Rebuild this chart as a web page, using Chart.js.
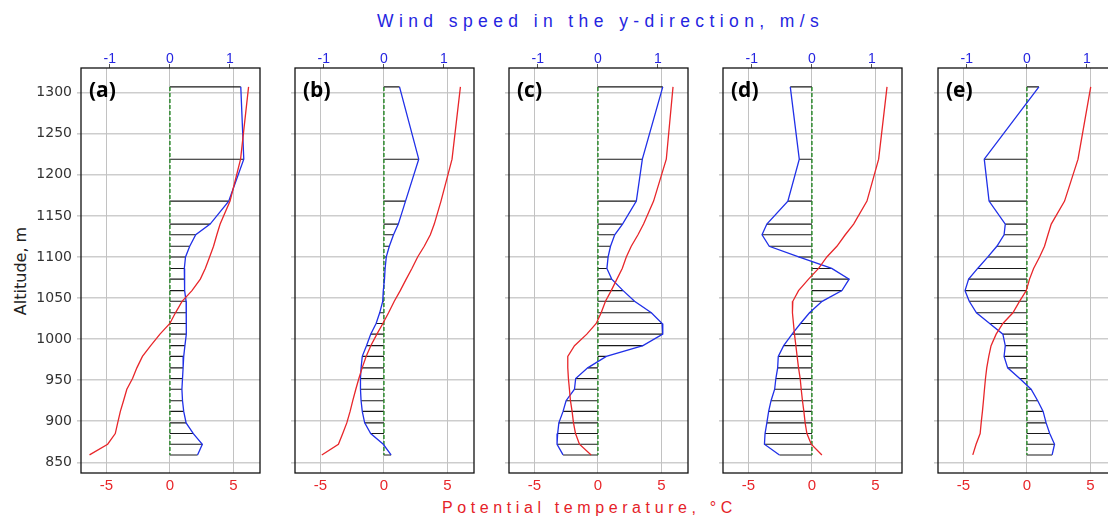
<!DOCTYPE html>
<html>
<head>
<meta charset="utf-8">
<title>Wind and potential temperature profiles</title>
<script src="https://cdn.jsdelivr.net/npm/chart.js@4.4.1/dist/chart.umd.min.js"></script>
<style>
  html, body { margin: 0; padding: 0; background: #fff; }
  body { position: relative; width: 1108px; height: 517px; overflow: hidden;
         font-family: 'Liberation Sans', Arial, sans-serif; }
  .panel { position: absolute; top: 0; width: 261px; height: 517px; }
  .axis-title { position: absolute; white-space: nowrap; }
  #windTitle { left: 377px; top: 11px; font-size: 17.5px; letter-spacing: 5.4px; color: #2525e0; }
  #tempTitle { left: 442px; top: 499px; font-size: 16px; letter-spacing: 4.6px; color: #e52228; }
  #altTitle { left: 20px; top: 271px; color: #222; font-family: 'DejaVu Sans', sans-serif;
              font-size: 16px; transform: translate(-50%, -50%) rotate(-90deg); }
</style>
</head>
<body>
<div class="axis-title" id="windTitle">Wind speed in the y-direction, m/s</div>
<div class="axis-title" id="tempTitle">Potential temperature, °C</div>
<div class="axis-title" id="altTitle">Altitude, m</div>

<script>
// sounding levels (m) shared by every profile
const altitudes = [1307, 1219, 1168, 1140, 1127, 1113, 1100, 1086, 1073, 1059, 1046, 1032, 1019,
                   1006, 992, 979, 965, 952, 939, 925, 912, 898, 885, 872, 859];

const altTicks = [850, 900, 950, 1000, 1050, 1100, 1150, 1200, 1250, 1300];
const tempTicks = [-5, 0, 5];
const windTicks = [-1, 0, 1];
const panelNames = ['(a)', '(b)', '(c)', '(d)', '(e)'];

// y-direction wind, m/s
const windA = [1.18, 1.23, 0.98, 0.67, 0.43, 0.33, 0.26, 0.24, 0.24, 0.25, 0.27, 0.27, 0.28,
               0.27, 0.25, 0.23, 0.22, 0.21, 0.20, 0.21, 0.23, 0.27, 0.39, 0.54, 0.46];
const windB = [0.26, 0.58, 0.36, 0.24, 0.16, 0.09, 0.04, 0.02, 0.01, -0.01, -0.02, -0.07, -0.13,
               -0.22, -0.29, -0.36, -0.38, -0.39, -0.39, -0.38, -0.36, -0.32, -0.22, -0.01, 0.12];
const windC = [1.08, 0.74, 0.64, 0.41, 0.28, 0.21, 0.17, 0.15, 0.23, 0.42, 0.61, 0.89, 1.07,
               1.08, 0.75, 0.14, -0.17, -0.37, -0.39, -0.53, -0.58, -0.65, -0.67, -0.68, -0.58];
const windD = [-0.36, -0.21, -0.40, -0.75, -0.83, -0.71, -0.22, 0.33, 0.62, 0.50, 0.17, -0.04, -0.19,
               -0.33, -0.47, -0.56, -0.57, -0.60, -0.62, -0.68, -0.72, -0.75, -0.78, -0.79, -0.54];
const windE = [0.20, -0.71, -0.63, -0.36, -0.38, -0.50, -0.65, -0.82, -0.97, -1.03, -0.96, -0.84, -0.62,
               -0.40, -0.36, -0.38, -0.32, -0.12, 0.07, 0.18, 0.27, 0.32, 0.38, 0.46, 0.42];

// potential temperature, deg C
const tempA = [6.2, 5.57, 4.74, 3.96, 3.7, 3.44, 3.13, 2.79, 2.4, 1.74, 0.96, 0.44, 0.0,
               -0.78, -1.51, -2.16, -2.6, -2.94, -3.39, -3.65, -3.9, -4.11, -4.3, -4.9, -6.33];
const tempB = [6.03, 5.37, 4.5, 3.97, 3.66, 3.18, 2.66, 2.21, 1.76, 1.29, 0.82, 0.37, -0.08,
               -0.55, -1.03, -1.39, -1.71, -1.97, -2.21, -2.45, -2.66, -2.92, -3.24, -3.58, -4.89];
const tempC = [5.92, 5.39, 4.39, 3.6, 3.16, 2.63, 2.24, 1.92, 1.5, 1.05, 0.6, 0.26, -0.13,
               -0.87, -1.84, -2.37, -2.37, -2.32, -2.24, -2.16, -2.03, -1.92, -1.76, -1.45, -0.53];
const tempD = [5.92, 5.26, 4.34, 3.29, 2.63, 1.97, 1.18, 0.53, -0.26, -1.05, -1.5, -1.53, -1.45,
               -1.37, -1.26, -1.16, -1.05, -0.92, -0.84, -0.74, -0.63, -0.53, -0.39, -0.05, 0.79];
const tempE = [5.03, 4.03, 2.97, 1.92, 1.66, 1.39, 1.0, 0.53, 0.21, -0.05, -0.58, -1.1, -1.89,
               -2.42, -2.82, -3.0, -3.16, -3.26, -3.34, -3.42, -3.5, -3.6, -3.68, -4.0, -4.26];

const windSeries = [windA, windB, windC, windD, windE];
const tempSeries = [tempA, tempB, tempC, tempD, tempE];

// left edge of each plot box on the page
const plotLefts = [81, 295, 509, 723, 938];
const AXIS_W = 80;

const FONT = "'Liberation Sans', Arial, sans-serif";

function fixedTicks(list) {
    return function (scale) { scale.ticks = list.map(v => ({ value: v })); };
}

// box around the plot area plus the panel letter
const framePlugin = {
    id: 'frame',
    afterDraw(chart, args, opts) {
        const { ctx, chartArea: a } = chart;
        ctx.save();
        ctx.strokeStyle = '#111';
        ctx.lineWidth = 1.3;
        ctx.strokeRect(a.left, a.top, a.right - a.left, a.bottom - a.top);
        ctx.fillStyle = '#000';
        ctx.font = "bold 21px 'Open Sans', sans-serif";
        ctx.textBaseline = 'middle';
        ctx.fillText(opts.label, a.left + 8, a.top + 23);
        ctx.restore();
    }
};

function buildPanel(i) {
    const wind = windSeries[i];
    const temp = tempSeries[i];

    const tempPts = altitudes.map((h, k) => ({ x: temp[k], y: h }));
    const windPts = altitudes.map((h, k) => ({ x: wind[k], y: h }));
    const zeroPts = [{ x: 0, y: altitudes[0] }, { x: 0, y: altitudes[altitudes.length - 1] }];
    // one horizontal stroke per level, from zero out to the wind value
    const hatchPts = [];
    altitudes.forEach((h, k) => {
        hatchPts.push({ x: 0, y: h }, { x: wind[k], y: h }, { x: null, y: null });
    });

    const wrap = document.createElement('div');
    wrap.className = 'panel';
    wrap.style.left = (plotLefts[i] - AXIS_W) + 'px';
    const canvas = document.createElement('canvas');
    wrap.appendChild(canvas);
    document.body.appendChild(wrap);

    new Chart(canvas.getContext('2d'), {
        type: 'scatter',
        data: {
            datasets: [
                { data: tempPts, xAxisID: 'x', yAxisID: 'y', showLine: true, borderColor: '#e8262a',
                  borderWidth: 1.3, pointRadius: 0, tension: 0 },
                { data: windPts, xAxisID: 'x2', yAxisID: 'y', showLine: true, borderColor: '#2030e8',
                  borderWidth: 1.3, pointRadius: 0, tension: 0 },
                { data: zeroPts, xAxisID: 'x2', yAxisID: 'y', showLine: true, borderColor: '#2e8b2e',
                  borderWidth: 1.5, borderDash: [4, 2], pointRadius: 0 },
                { data: hatchPts, xAxisID: 'x2', yAxisID: 'y', showLine: true, spanGaps: false,
                  borderColor: '#1a1a1a', borderWidth: 1.1, pointRadius: 0 }
            ]
        },
        options: {
            responsive: true,
            maintainAspectRatio: false,
            animation: false,
            events: [],
            layout: { padding: { left: 0, right: 2, top: 0, bottom: 0 } },
            plugins: { legend: { display: false }, tooltip: { enabled: false },
                       frame: { label: panelNames[i] } },
            scales: {
                y: {
                    type: 'linear', position: 'left', min: 837, max: 1330,
                    afterBuildTicks: fixedTicks(altTicks),
                    afterFit(s) { s.width = AXIS_W; },
                    border: { display: false },
                    grid: { color: '#cdcdcd', lineWidth: 1.6, tickLength: 4 },
                    ticks: { display: i === 0, color: '#333', padding: 5,
                             font: { family: "'DejaVu Sans', sans-serif", size: 14 },
                             callback: v => String(v) }
                },
                x: {
                    type: 'linear', position: 'bottom', min: -7, max: 7.1,
                    afterBuildTicks: fixedTicks(tempTicks),
                    afterFit(s) { s.height = 44; },
                    border: { display: false },
                    grid: { color: '#c2c2c2', lineWidth: 1, drawTicks: false },
                    ticks: { color: '#e8262a', padding: 4, font: { family: FONT, size: 15 } }
                },
                x2: {
                    type: 'linear', position: 'top', min: -1.48, max: 1.5,
                    afterBuildTicks: fixedTicks(windTicks),
                    afterFit(s) { s.height = 68; },
                    border: { display: false },
                    grid: { drawOnChartArea: false, color: '#555', tickLength: 4 },
                    ticks: { color: '#2525e0', padding: -4, font: { family: FONT, size: 14 } }
                }
            }
        },
        plugins: [framePlugin]
    });
}

for (let i = 0; i < panelNames.length; i++) buildPanel(i);
</script>
</body>
</html>
